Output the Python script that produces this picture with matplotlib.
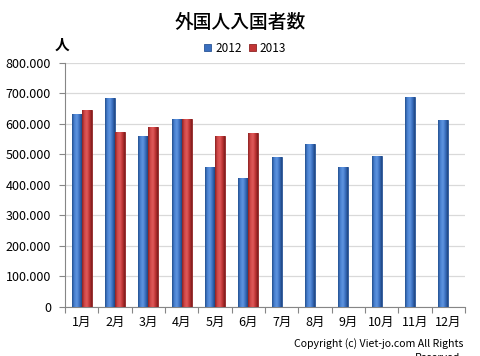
import numpy as np
import matplotlib
matplotlib.use('Agg')
import matplotlib.pyplot as plt
from matplotlib.colors import LinearSegmentedColormap
from matplotlib.ticker import FuncFormatter

plt.rcParams['font.family'] = ['Noto Sans CJK JP', 'DejaVu Sans']

months = ['1月', '2月', '3月', '4月', '5月', '6月', '7月', '8月', '9月', '10月', '11月', '12月']
visitors_2012 = [632000, 684000, 562000, 617000, 457000, 422000, 492000, 535000, 459000, 496000, 687000, 614000]
visitors_2013 = [645000, 572000, 589000, 615000, 559000, 569000]
yticks = [0, 100000, 200000, 300000, 400000, 500000, 600000, 700000, 800000]

fig = plt.figure(figsize=(4.81, 3.56), dpi=100)
ax = fig.add_axes([65/481, 1 - 306.7/356, 400/481, 243.7/356])

x = np.arange(len(months))
w = 0.3
b1 = ax.bar(x - w/2, visitors_2012, w, color='#3a6fbf', edgecolor='#2a5596', linewidth=0.6, zorder=3)
b2 = ax.bar(np.arange(len(visitors_2013)) + w/2, visitors_2013, w, color='#c23535', edgecolor='#8e2424', linewidth=0.6, zorder=3)

# cylinder-ish shading across each bar
blue_cm = LinearSegmentedColormap.from_list('b', ['#24508f', '#4a82d2', '#5f95e0', '#3a6fbf', '#1f4682'])
red_cm = LinearSegmentedColormap.from_list('r', ['#8c2222', '#d24848', '#de5a5a', '#bf3434', '#7e1c1c'])
grad = np.linspace(0, 1, 64).reshape(1, -1)
for bars, cm in ((b1, blue_cm), (b2, red_cm)):
    for p in bars:
        x0, y0 = p.get_x(), p.get_y()
        im = ax.imshow(grad, cmap=cm, aspect='auto', zorder=4,
                       extent=(x0, x0 + p.get_width(), y0, y0 + p.get_height()))
        im.set_clip_path(p)

ax.set_xlim(-0.5, len(months) - 0.5)
ax.set_ylim(0, 800000)
ax.set_yticks(yticks)
ax.yaxis.set_major_formatter(FuncFormatter(lambda v, pos: '0' if v == 0 else '{:,.0f}'.format(v).replace(',', '.')))
ax.set_xticks(x)
ax.set_xticklabels(months)
ax.set_xticks(np.arange(-0.5, len(months), 1), minor=True)
ax.tick_params(axis='x', which='major', length=0, pad=7, labelsize=9)
ax.tick_params(axis='x', which='minor', length=4, color='#868686', width=0.8)
ax.tick_params(axis='y', length=4, color='#868686', width=0.8, labelsize=9, pad=6)

ax.grid(axis='y', color='#d9d9d9', linewidth=0.9, zorder=0)
for s in ['top', 'right']:
    ax.spines[s].set_visible(False)
ax.spines['left'].set_color('#868686')
ax.spines['bottom'].set_color('#868686')

fig.text(0.5, 1 - 22/356, '外国人入国者数', ha='center', va='center', fontsize=13.5, fontweight='medium')
fig.text(62/481, 1 - 45/356, '人', ha='center', va='center', fontsize=10.5, fontweight='bold')

leg = fig.legend([b1, b2], ['2012', '2013'], loc='center', bbox_to_anchor=(245/481, 1 - 48/356),
                 ncol=2, frameon=False, fontsize=8.5, handlelength=0.6, handleheight=0.6,
                 handletextpad=0.3, columnspacing=0.6)

fig.text(463/481, 1 - 344/356, 'Copyright (c) Viet-jo.com All Rights', ha='right', va='center', fontsize=7.6)
fig.text(460/481, 1 - 353/356, 'Reserved', ha='right', va='top', fontsize=7.6)

fig.savefig('out.png', dpi=100)
